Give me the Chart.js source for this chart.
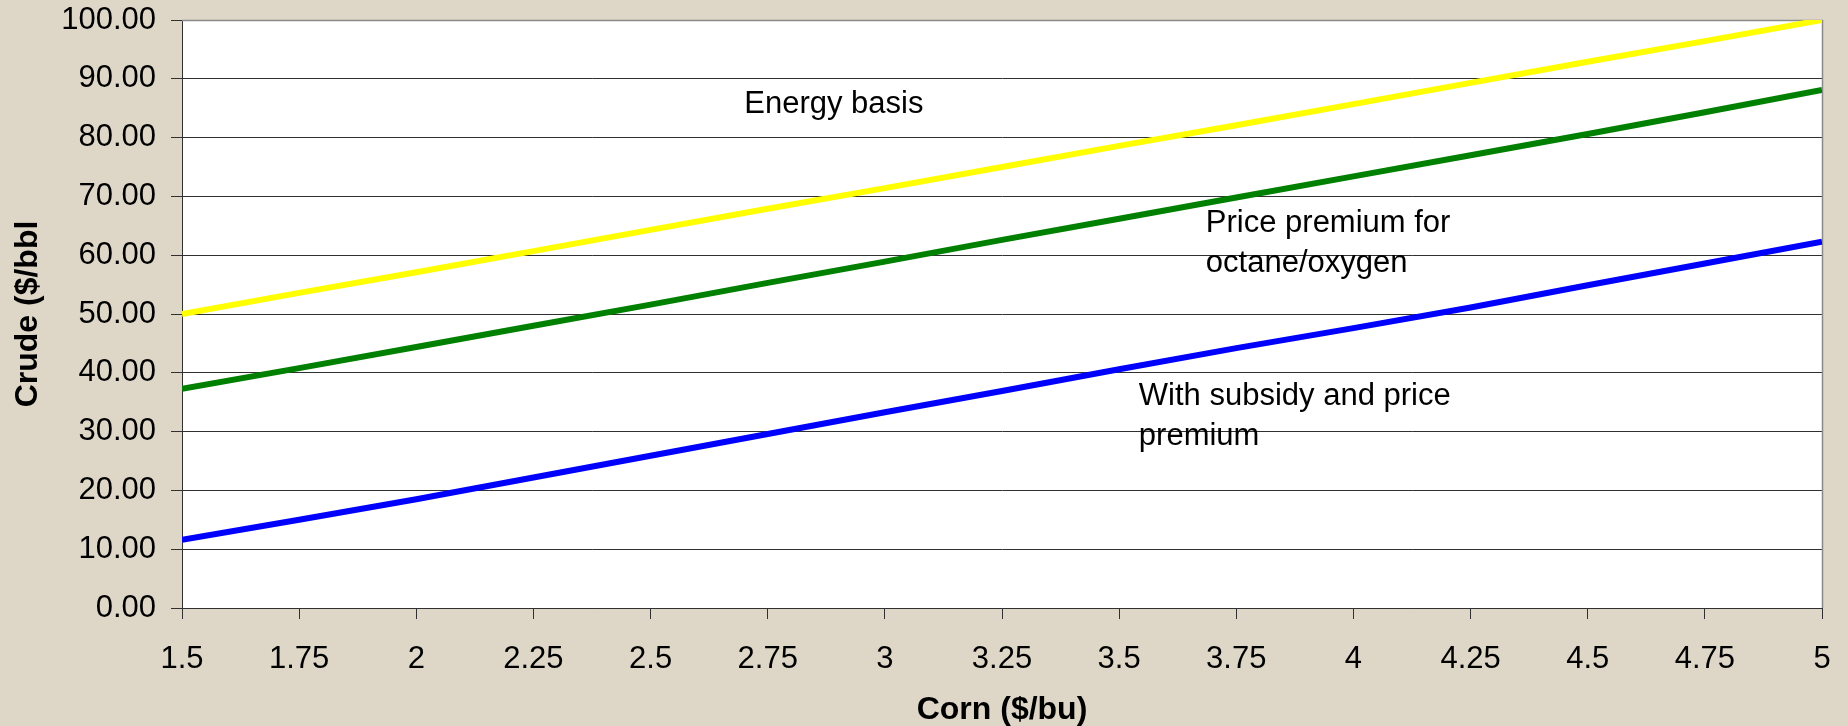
<!DOCTYPE html>
<html><head><meta charset="utf-8">
<script src="https://cdn.jsdelivr.net/npm/chart.js@4/dist/chart.umd.min.js"></script>
<style>
html,body{margin:0;padding:0;background:#DED7C8;}
#wrap{width:1848px;height:726px;position:relative;}
</style>
</head><body>
<div id="wrap"><canvas id="c"></canvas></div>
<script>
// ---- data ----
const cornPrices = [1.5, 1.75, 2, 2.25, 2.5, 2.75, 3, 3.25, 3.5, 3.75, 4, 4.25, 4.5, 4.75, 5];
const xTickLabels = ['1.5','1.75','2','2.25','2.5','2.75','3','3.25','3.5','3.75','4','4.25','4.5','4.75','5'];
const yTickLabels = ['0.00','10.00','20.00','30.00','40.00','50.00','60.00','70.00','80.00','90.00','100.00'];
const energyBasis    = [50.0, 53.6, 57.1, 60.7, 64.3, 67.9, 71.4, 75.0, 78.6, 82.1, 85.7, 89.3, 92.9, 96.4, 100.0];
const pricePremium   = [37.3, 40.8, 44.4, 48.0, 51.6, 55.3, 58.9, 62.6, 66.2, 69.8, 73.4, 77.0, 80.6, 84.3, 88.1];
const subsidyPremium = [11.6, 15.0, 18.5, 22.2, 25.9, 29.6, 33.3, 36.9, 40.6, 44.2, 47.6, 51.1, 54.9, 58.6, 62.3];
const seriesNames = ['Energy basis', 'Price premium for octane/oxygen', 'With subsidy and price premium'];
const annotationTexts = [['Energy basis'], ['Price premium for', 'octane/oxygen'], ['With subsidy and price', 'premium']];
const annotationAnchors = [{x: 2.70, y: 84.2}, {x: 3.685, y: 63.9}, {x: 3.542, y: 34.5}];

const FONT = "'Liberation Sans', Arial, sans-serif";
const toXY = arr => arr.map((v, i) => ({x: cornPrices[i], y: v}));

const areaPlugin = {
  id: 'areaPlugin',
  beforeDraw(chart) {
    const {ctx, chartArea: a} = chart;
    ctx.save();
    ctx.fillStyle = '#ffffff';
    ctx.fillRect(a.left, a.top, a.right - a.left, a.bottom - a.top);
    ctx.restore();
  },
  beforeDatasetsDraw(chart) {
    const {ctx, chartArea: a} = chart;
    ctx.save();
    ctx.strokeStyle = '#8a8a8a';
    ctx.lineWidth = 1.5;
    ctx.beginPath();
    ctx.moveTo(a.left, a.top + 0.5);
    ctx.lineTo(a.right + 0.5, a.top + 0.5);
    ctx.lineTo(a.right + 0.5, a.bottom);
    ctx.stroke();
    ctx.restore();
  },
  afterDatasetsDraw(chart) {
    const {ctx} = chart;
    const xs = chart.scales.x, ys = chart.scales.y;
    ctx.save();
    ctx.fillStyle = '#000';
    ctx.font = "31px " + FONT;
    ctx.textAlign = 'left';
    ctx.textBaseline = 'alphabetic';
    annotationTexts.forEach((lines, k) => {
      const px = xs.getPixelForValue(annotationAnchors[k].x);
      const py = ys.getPixelForValue(annotationAnchors[k].y);
      lines.forEach((t, j) => ctx.fillText(t, px, py + j * 40));
    });
    ctx.restore();
  }
};

new Chart(document.getElementById('c'), {
  type: 'line',
  data: {
    datasets: [
      {label: seriesNames[0], data: toXY(energyBasis), borderColor: '#FFFF00', borderWidth: 6, pointRadius: 0, tension: 0},
      {label: seriesNames[1], data: toXY(pricePremium), borderColor: '#008000', borderWidth: 6, pointRadius: 0, tension: 0},
      {label: seriesNames[2], data: toXY(subsidyPremium), borderColor: '#0000FF', borderWidth: 6, pointRadius: 0, tension: 0}
    ]
  },
  options: {
    responsive: true,
    maintainAspectRatio: false,
    animation: false,
    layout: {padding: {top: 20, right: 26, left: 0, bottom: 0}},
    plugins: {legend: {display: false}, tooltip: {enabled: false}},
    scales: {
      x: {
        type: 'linear', min: 1.5, max: 5,
        afterFit(s) { s.height = 118; s.paddingLeft = 0; s.paddingRight = 0; },
        ticks: {stepSize: 0.25, autoSkip: false, maxRotation: 0, padding: 22, color: '#000',
                font: {family: FONT, size: 31},
                callback: (v, i) => xTickLabels[i]},
        grid: {drawOnChartArea: false, drawTicks: true, tickLength: 11, color: '#303030', lineWidth: 1},
        border: {display: true, color: '#303030', width: 1},
        title: {display: true, text: 'Corn ($/bu)', color: '#000',
                font: {family: FONT, size: 32, weight: 'bold', lineHeight: 1}, padding: {top: 0, bottom: 0}}
      },
      y: {
        min: 0, max: 100,
        afterFit(s) { s.width = 182; s.paddingTop = 0; s.paddingBottom = 0; },
        ticks: {stepSize: 10, padding: 15, color: '#000', font: {family: FONT, size: 31},
                callback: (v, i) => yTickLabels[i]},
        grid: {drawOnChartArea: true, drawTicks: true, tickLength: 11, color: '#303030', lineWidth: 1},
        border: {display: true, color: '#303030', width: 1},
        title: {display: true, text: 'Crude ($/bbl', color: '#000',
                font: {family: FONT, size: 32, weight: 'bold', lineHeight: 1.2}, padding: {top: 9, bottom: 0}}
      }
    }
  },
  plugins: [areaPlugin]
});
</script>
</body></html>
